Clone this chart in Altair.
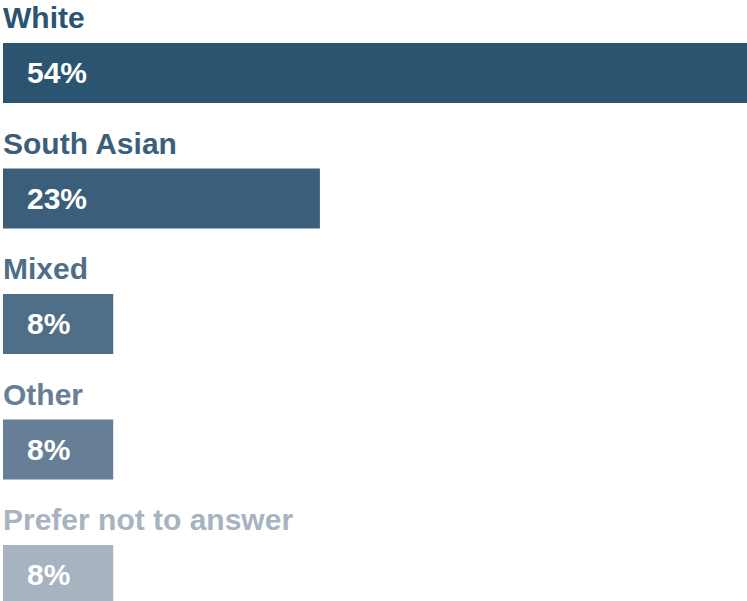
import altair as alt
import pandas as pd

categories = ["White", "South Asian", "Mixed", "Other", "Prefer not to answer"]
values = [54, 23, 8, 8, 8]
labels = ["54%", "23%", "8%", "8%", "8%"]
colors = ["#2a5470", "#3b5f7b", "#4f6e87", "#677f96", "#a8b3c2"]

df = pd.DataFrame({"category": categories, "value": values, "label": labels, "zero": [0] * len(values)})

FONT = "Liberation Sans"

y = alt.Y("category:N", sort=categories, axis=None,
          scale=alt.Scale(range=[0, 627.5], paddingInner=0, paddingOuter=0))
color = alt.Color("category:N", scale=alt.Scale(domain=categories, range=colors), legend=None)
xscale = alt.Scale(domain=[0, 54], nice=False, zero=True)

base = alt.Chart(df)

bars = base.mark_bar(size=60, yOffset=10.25, clip=True, cornerRadius=0).encode(
    x=alt.X("value:Q", scale=xscale, axis=None),
    x2=alt.X2("zero:Q"),
    y=y,
    color=color,
)

names = base.mark_text(align="left", baseline="alphabetic", font=FONT, fontWeight="bold",
                       fontSize=30, yOffset=-34.75, dx=0).encode(
    x=alt.X("zero:Q", scale=xscale, axis=None),
    y=y,
    text="category:N",
    color=color,
)

pcts = base.mark_text(align="left", baseline="alphabetic", font=FONT, fontWeight="bold",
                      fontSize=30, yOffset=20.25, dx=24, color="white").encode(
    x=alt.X("zero:Q", scale=xscale, axis=None),
    y=y,
    text="label:N",
)

chart = alt.layer(bars, names, pcts).properties(
    width=744, height=601,
    autosize=alt.AutoSizeParams(type="none"),
    padding={"left": 3, "top": 0, "right": 0, "bottom": 0},
).configure_view(stroke=None)

chart.save("out.html", embed_options={"renderer": "svg", "actions": False})
